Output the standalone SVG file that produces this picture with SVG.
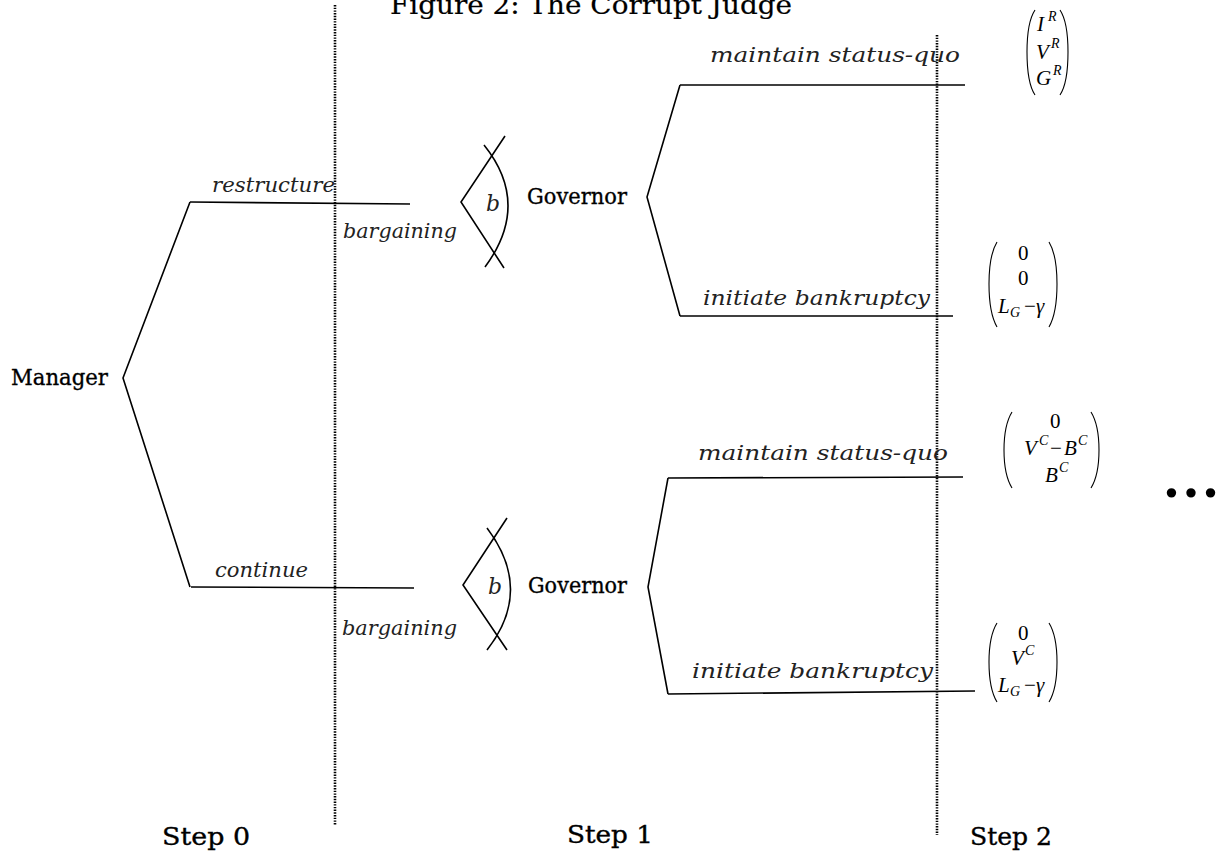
<svg xmlns="http://www.w3.org/2000/svg" width="1231" height="857" viewBox="0 0 1231 857">
<style>
.ln{stroke:#000;stroke-width:1.6;fill:none}
.dot{stroke:#000;stroke-width:2.6;fill:none;stroke-dasharray:1.4 1.3}
.par{stroke:#000;stroke-width:1.1;fill:none}
.node{font-family:"DejaVu Serif","Liberation Serif",serif;font-size:23px;fill:#000;stroke:#000;stroke-width:0.35}
.lab{font-family:"DejaVu Serif","Liberation Serif",serif;font-style:italic;font-size:21px;fill:#222}
.m{font-family:"Liberation Serif","Times New Roman",serif;font-style:italic;font-size:21px;fill:#000}
.mn{font-family:"Liberation Serif","Times New Roman",serif;font-size:21px;fill:#000}
.sup{font-size:14px}
</style>
<rect width="1231" height="857" fill="#fff"/>
<text x="390" y="14" class="node" style="font-size:26px;stroke-width:0.2" textLength="402" lengthAdjust="spacingAndGlyphs">Figure 2: The Corrupt Judge</text>

<g id="dividers">
<line class="dot" x1="335" y1="5" x2="335" y2="825"/>
<line class="dot" x1="937" y1="35" x2="937" y2="835"/>
</g>

<g id="connectors">
<polyline class="ln" points="190,202 123,378 190,587"/>
<line class="ln" x1="190" y1="202" x2="410" y2="204"/>
<line class="ln" x1="191" y1="587" x2="414" y2="588"/>
<polyline class="ln" points="680,85 647,197 680,316"/>
<line class="ln" x1="680" y1="85" x2="965" y2="85"/>
<line class="ln" x1="680" y1="316" x2="953" y2="316"/>
<polyline class="ln" points="668,478 648,587 668,694"/>
<line class="ln" x1="668" y1="478" x2="963" y2="477"/>
<line class="ln" x1="668" y1="694" x2="975" y2="691"/>
</g>

<g id="labels">
<text class="lab" x="212" y="192" textLength="123" lengthAdjust="spacingAndGlyphs">restructure</text>
<text class="lab" x="215" y="577" textLength="93" lengthAdjust="spacingAndGlyphs">continue</text>
<text class="lab" x="343" y="238" textLength="114" lengthAdjust="spacingAndGlyphs">bargaining</text>
<text class="lab" x="342" y="635" textLength="115" lengthAdjust="spacingAndGlyphs">bargaining</text>
<text class="lab" x="710" y="62" textLength="250" lengthAdjust="spacingAndGlyphs">maintain status-quo</text>
<text class="lab" x="703" y="305" textLength="227" lengthAdjust="spacingAndGlyphs">initiate bankruptcy</text>
<text class="lab" x="698" y="460" textLength="250" lengthAdjust="spacingAndGlyphs">maintain status-quo</text>
<text class="lab" x="692" y="678" textLength="241" lengthAdjust="spacingAndGlyphs">initiate bankruptcy</text>
</g>

<g id="manager">
<text class="node" x="11" y="385" textLength="97" lengthAdjust="spacingAndGlyphs">Manager</text>
</g>

<g id="bargain-top">
<polyline class="ln" points="505,136 461,202 504,268"/>
<path class="ln" d="M484,145 Q531.5,204 485,267"/>
<text class="lab" x="486" y="211" style="font-size:22px">b</text>
</g>
<g id="governor-top">
<text class="node" x="527" y="204" textLength="100" lengthAdjust="spacingAndGlyphs">Governor</text>
</g>

<g id="bargain-bottom">
<polyline class="ln" points="507,518 463,585 507,650"/>
<path class="ln" d="M487,528 Q534,590 487,650"/>
<text class="lab" x="488" y="594" style="font-size:22px">b</text>
</g>
<g id="governor-bottom">
<text class="node" x="528" y="593" textLength="99" lengthAdjust="spacingAndGlyphs">Governor</text>
</g>

<g id="payoff-1">
<path class="par" d="M1035,10 Q1027,22 1027,52 Q1027,83 1035,95"/>
<path class="par" d="M1060,10 Q1068,22 1068,52 Q1068,83 1060,95"/>
<text class="m" x="1037" y="31">I</text><text class="m sup" x="1048" y="21">R</text>
<text class="m" x="1036" y="59">V</text><text class="m sup" x="1051" y="48">R</text>
<text class="m" x="1036" y="85">G</text><text class="m sup" x="1053" y="75">R</text>
</g>

<g id="payoff-2">
<path class="par" d="M997,242 Q989,255 989,284 Q989,313 997,327"/>
<path class="par" d="M1049,242 Q1057,255 1057,284 Q1057,313 1049,327"/>
<text class="mn" x="1018" y="260">0</text>
<text class="mn" x="1018" y="285">0</text>
<text class="m" x="998" y="313">L</text><text class="m sup" x="1010" y="317">G</text>
<text class="mn" x="1024" y="313">−</text><text class="m" x="1036" y="313">γ</text>
</g>

<g id="payoff-3">
<path class="par" d="M1012,412 Q1004,425 1004,450 Q1004,475 1012,488"/>
<path class="par" d="M1091,412 Q1099,425 1099,450 Q1099,475 1091,488"/>
<text class="mn" x="1050" y="428">0</text>
<text class="m" x="1024" y="455">V</text><text class="m sup" x="1039" y="445">C</text>
<text class="mn" x="1050" y="455">−</text>
<text class="m" x="1064" y="455">B</text><text class="m sup" x="1078" y="445">C</text>
<text class="m" x="1045" y="482">B</text><text class="m sup" x="1059" y="472">C</text>
</g>

<g id="payoff-4">
<path class="par" d="M997,623 Q989,636 989,662 Q989,689 997,702"/>
<path class="par" d="M1049,623 Q1057,636 1057,662 Q1057,689 1049,702"/>
<text class="mn" x="1018" y="640">0</text>
<text class="m" x="1011" y="665">V</text><text class="m sup" x="1025" y="655">C</text>
<text class="m" x="998" y="692">L</text><text class="m sup" x="1010" y="696">G</text>
<text class="mn" x="1024" y="692">−</text><text class="m" x="1036" y="692">γ</text>
</g>

<g id="ellipsis">
<text x="1164" y="497" style="font-family:'Liberation Serif',serif;font-size:58px;font-weight:bold;font-style:italic">…</text>
</g>

<g id="steps">
<text class="node" x="162" y="845" style="font-size:24px" textLength="88" lengthAdjust="spacingAndGlyphs">Step 0</text>
<text class="node" x="567" y="843" style="font-size:24px" textLength="86" lengthAdjust="spacingAndGlyphs">Step 1</text>
<text class="node" x="970" y="845" style="font-size:24px" textLength="82" lengthAdjust="spacingAndGlyphs">Step 2</text>
</g>
</svg>
